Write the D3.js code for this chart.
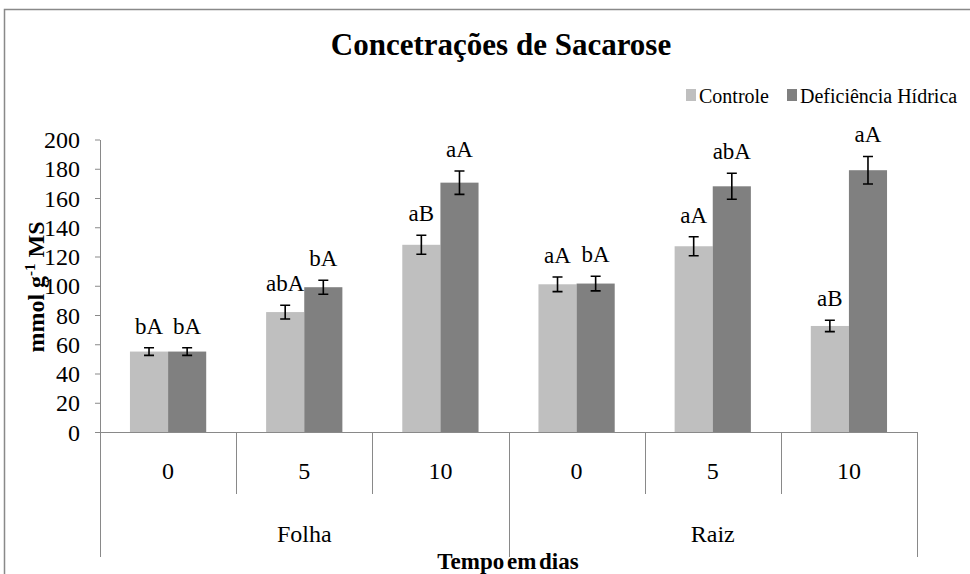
<!DOCTYPE html>
<head>
<meta charset="utf-8">
<style>
  body { margin: 0; background: #fff; }
  text { font-family: "Liberation Serif", "Times New Roman", serif; fill: #000; }
</style>
<script src="https://d3js.org/d3.v7.min.js"></script>
</head>
<body>
<script>
// values
var groups = ["Folha", "Raiz"];
var days = ["0", "5", "10", "0", "5", "10"];
var seriesNames = ["Controle", "Deficiência Hídrica"];
var controle = [55, 82, 128, 101, 127, 72.5];
var deficiencia = [55, 99, 170.5, 101.5, 168, 179];
var controleErr = [2.6, 4.7, 6.5, 5, 6.5, 3.9];
var deficienciaErr = [2.6, 4.8, 8, 5, 8.9, 9.4];
var controleLabels = ["bA", "abA", "aB", "aA", "aA", "aB"];
var deficienciaLabels = ["bA", "bA", "aA", "bA", "abA", "aA"];
var yTicks = [0, 20, 40, 60, 80, 100, 120, 140, 160, 180, 200];
var colors = ["#bfbfbf", "#808080"];

var width = 970, height = 574;
var svg = d3.select("body").append("svg").attr("width", width).attr("height", height);

// chart border (runs off right and bottom)
svg.append("rect").attr("x", 4.5).attr("y", 9.5).attr("width", 980).attr("height", 600)
    .attr("fill", "none").attr("stroke", "#898989").attr("stroke-width", 1.5);

var plotLeft = 100, plotRight = 917, plotTop = 139.5, plotBottom = 432;
var y = d3.scaleLinear().domain([0, 200]).range([plotBottom, plotTop]);
var x = d3.scaleBand().domain(d3.range(6)).range([plotLeft, plotRight]);
var bw = x.bandwidth();
var xs = d3.scaleBand().domain([0, 1]).range([bw * 0.22, bw * 0.78]);

svg.append("text").attr("x", 501).attr("y", 55).attr("text-anchor", "middle")
    .attr("font-size", 31).attr("font-weight", "bold").text("Concetrações de Sacarose");

// y axis
var yAxis = svg.append("g").attr("transform", "translate(" + plotLeft + ",0)")
    .call(d3.axisLeft(y).tickValues(yTicks).tickSize(5).tickSizeOuter(0).tickPadding(15));
yAxis.select(".domain").attr("stroke", "#898989");
yAxis.selectAll(".tick line").attr("stroke", "#898989");
yAxis.selectAll(".tick text").attr("font-size", 24).attr("font-family", "Liberation Serif")
    .attr("fill", "#000").attr("dy", "0.34em");

// bars
var data = [];
for (var i = 0; i < 6; i++) {
  data.push({i: i, s: 0, v: controle[i], e: controleErr[i], l: controleLabels[i]});
  data.push({i: i, s: 1, v: deficiencia[i], e: deficienciaErr[i], l: deficienciaLabels[i]});
}
var bars = svg.selectAll(".bar").data(data).enter().append("g")
    .attr("transform", function(d) { return "translate(" + (x(d.i) + xs(d.s)) + ",0)"; });
bars.append("rect").attr("y", function(d) { return y(d.v); })
    .attr("width", xs.bandwidth())
    .attr("height", function(d) { return plotBottom - y(d.v); })
    .attr("fill", function(d) { return colors[d.s]; });
var cx = xs.bandwidth() / 2;
bars.append("path").attr("fill", "none").attr("stroke", "#000").attr("stroke-width", 1.6)
    .attr("d", function(d) {
      var t = y(d.v + d.e), b = y(d.v - d.e);
      return "M" + cx + "," + t + "V" + b + "M" + (cx - 5) + "," + t + "H" + (cx + 5) +
             "M" + (cx - 5) + "," + b + "H" + (cx + 5);
    });
bars.append("text").attr("x", cx).attr("y", function(d) { return y(d.v + d.e) - 14; })
    .attr("text-anchor", "middle").attr("font-size", 23).text(function(d) { return d.l; });

// x axis with two-level categories
var ax = svg.append("g").attr("stroke", "#898989").attr("stroke-width", 1);
ax.append("line").attr("x1", plotLeft - 5).attr("x2", plotRight).attr("y1", plotBottom + 0.5).attr("y2", plotBottom + 0.5);
d3.range(7).forEach(function(k) {
  var xx = Math.round(plotLeft + k * bw) + 0.5;
  var long = (k % 3 === 0);
  ax.append("line").attr("x1", xx).attr("x2", xx).attr("y1", plotBottom)
      .attr("y2", long ? 557 : 494);
});
svg.selectAll(".day").data(days).enter().append("text")
    .attr("x", function(d, i) { return x(i) + bw / 2; }).attr("y", 479)
    .attr("text-anchor", "middle").attr("font-size", 24).text(function(d) { return d; });
svg.selectAll(".grp").data(groups).enter().append("text")
    .attr("x", function(d, i) { return plotLeft + (i * 3 + 1.5) * bw; }).attr("y", 542)
    .attr("text-anchor", "middle").attr("font-size", 24).text(function(d) { return d; });
svg.append("text").attr("x", 508).attr("y", 569).attr("text-anchor", "middle")
    .attr("font-size", 23).attr("font-weight", "bold").attr("word-spacing", -3).text("Tempo em dias");

// y axis title
var yt = svg.append("text").attr("transform", "translate(44,287) rotate(-90)")
    .attr("text-anchor", "middle").attr("font-size", 24).attr("font-weight", "bold");
yt.append("tspan").text("mmol g");
yt.append("tspan").attr("dy", -9).attr("font-size", 15).text("-1");
yt.append("tspan").attr("dy", 9).text(" MS");

// legend
var lg = svg.append("g").attr("transform", "translate(686,95)");
var lx = [0, 101];
seriesNames.forEach(function(n, i) {
  lg.append("rect").attr("x", lx[i]).attr("y", -6).attr("width", 10).attr("height", 12).attr("fill", colors[i]);
  lg.append("text").attr("x", lx[i] + 13).attr("y", 7.5).attr("font-size", 20).text(n);
});
</script>
</body>
</html>
